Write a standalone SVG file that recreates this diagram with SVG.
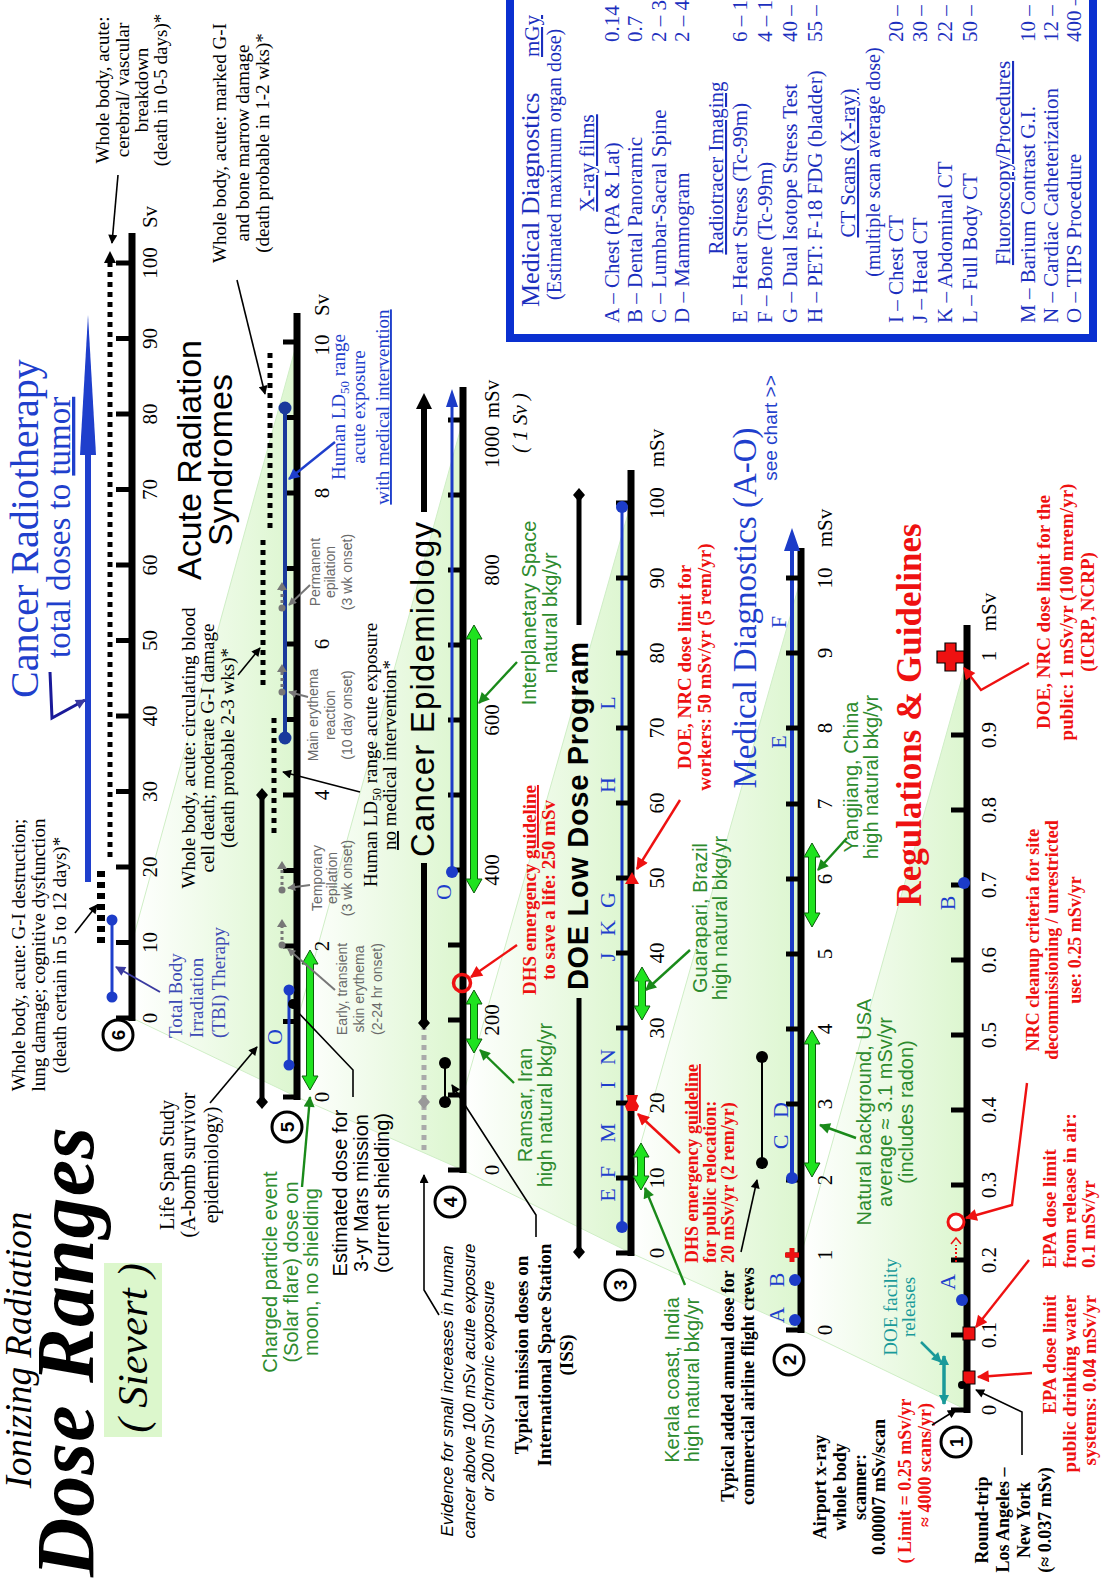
<svg xmlns="http://www.w3.org/2000/svg" width="1104" height="1585" viewBox="0 0 1104 1585">
<defs>
<style>
svg{font-family:"Liberation Serif",serif}
.ax{stroke:#000;stroke-width:7;fill:none}
.tk{stroke:#000;stroke-width:5;fill:none}
.tl{font-size:21px;text-anchor:middle;fill:#000}
.c{text-anchor:middle}
.e{text-anchor:end}
.s{font-family:"Liberation Sans",sans-serif}
.b{font-weight:bold}
.i{font-style:italic}
.red{fill:#ee1111}
.grn{fill:#2e8b2e}
.blu{fill:#1f3fcc}
.gry{fill:#6a6a6a}
.teal{fill:#1a9a9a}
.f13{font-size:13px}.f14{font-size:14px}.f18{font-size:18px}.f19{font-size:19px}.f20{font-size:20px}.f21{font-size:21px}
.shade{fill:url(#gs);stroke:#cfeec6;stroke-width:1}
.dbl{fill:#1fe31f;stroke:#0b5d0b;stroke-width:1}
.bdot{fill:#1c3cc8}
.circ{fill:#fff;stroke:#000;stroke-width:3}
.cn{font-family:"Liberation Sans",sans-serif;font-weight:bold;font-size:19px;text-anchor:middle}
.cb{fill:none;stroke:#000;stroke-width:1.6}
.cr{fill:none;stroke:#ee1111;stroke-width:2.4}
.cg{fill:none;stroke:#1a8a1a;stroke-width:2.4}
.dotl{fill:none;stroke:#000;stroke-width:5;stroke-dasharray:5 5}
.lt{font-size:22px;fill:#1f3fcc;text-anchor:middle}
.bx{font-size:21px;fill:#1c2fbe}
.gm{fill:#777}
.gml{fill:none;stroke:#777;stroke-width:3;stroke-dasharray:3 3}
</style>
<linearGradient id="gs" x1="0" y1="0" x2="0" y2="1">
<stop offset="0" stop-color="#ffffff"/>
<stop offset="1" stop-color="#dcf6cf"/>
</linearGradient>
<marker id="mk" viewBox="0 0 10 10" refX="9" refY="5" markerWidth="11" markerHeight="9" markerUnits="userSpaceOnUse" orient="auto-start-reverse"><path d="M0,0L10,5L0,10z" fill="#000"/></marker>
<marker id="mr" viewBox="0 0 10 10" refX="9" refY="5" markerWidth="15" markerHeight="12" markerUnits="userSpaceOnUse" orient="auto-start-reverse"><path d="M0,0L10,5L0,10z" fill="#ee1111"/></marker>
<marker id="mg" viewBox="0 0 10 10" refX="9" refY="5" markerWidth="14" markerHeight="11" markerUnits="userSpaceOnUse" orient="auto-start-reverse"><path d="M0,0L10,5L0,10z" fill="#1a8a1a"/></marker>
<marker id="mb" viewBox="0 0 10 10" refX="9" refY="5" markerWidth="14" markerHeight="11" markerUnits="userSpaceOnUse" orient="auto-start-reverse"><path d="M0,0L10,5L0,10z" fill="#1f3fcc"/></marker>
<marker id="mp" viewBox="0 0 10 10" refX="9" refY="5" markerWidth="13" markerHeight="10" markerUnits="userSpaceOnUse" orient="auto-start-reverse"><path d="M0,0L10,5L0,10z" fill="#3a3aa0"/></marker>
<marker id="my" viewBox="0 0 10 10" refX="9" refY="5" markerWidth="10" markerHeight="8" markerUnits="userSpaceOnUse" orient="auto-start-reverse"><path d="M0,0L10,5L0,10z" fill="#777"/></marker>
<marker id="mt" viewBox="0 0 10 10" refX="9" refY="5" markerWidth="12" markerHeight="10" markerUnits="userSpaceOnUse" orient="auto-start-reverse"><path d="M0,0L10,5L0,10z" fill="#1a9a9a"/></marker>
</defs>
<rect width="1104" height="1585" fill="#fff"/>
<g transform="translate(0,1585) rotate(-90)">

<g id="shading">
<polygon class="shade" points="567,132 642.5,132 1243,297 488,297"/>
<polygon class="shade" points="488,297 563.5,297 1165,463 415,463"/>
<polygon class="shade" points="415,463 490,463 1082,631 332,631"/>
<polygon class="shade" points="332,631 407,631 1007,801 255,801"/>
<polygon class="shade" points="255,801 330,801 925,967 175,967"/>
</g>

<g id="title">
<text x="235" y="31" class="i c" font-size="37">Ionizing Radiation</text>
<text x="8" y="93" class="i b" font-size="82" textLength="450">Dose Ranges</text>
<rect x="148" y="104" width="174" height="58" fill="#dcf7cc"/>
<text x="237" y="147" class="i c" font-size="43">( Sievert )</text>
</g>

<g id="axis6">
<path class="ax" d="M564,132H1352"/>
<path class="tk" d="M567,116V132M642.5,116V132M718,116V132M793.5,116V132M869,116V132M944.5,116V132M1020,116V132M1095.5,116V132M1171,116V132M1246.5,116V132M1322,116V132"/>
<g class="tl"><text x="567" y="157">0</text><text x="642.5" y="157">10</text><text x="718" y="157">20</text><text x="793.5" y="157">30</text><text x="869" y="157">40</text><text x="944.5" y="157">50</text><text x="1020" y="157">60</text><text x="1095.5" y="157">70</text><text x="1171" y="157">80</text><text x="1246.5" y="157">90</text><text x="1322" y="157">100</text><text x="1368" y="157">Sv</text></g>
<circle class="circ" cx="550" cy="118" r="15"/><text class="cn" x="550" y="125">6</text>
</g>

<g id="radiotherapy">
<text x="887" y="38" class="blu" font-size="40">Cancer Radiotherapy</text>
<text x="927" y="70" class="blu" font-size="33">total doses to <tspan text-decoration="underline">tumor</tspan></text>
<path d="M703,88H1132" stroke="#1f3fcc" stroke-width="6"/>
<polygon points="1130,80 1270,88 1130,96" fill="#1f3fcc"/>
<line x1="588" y1="112" x2="665" y2="112" stroke="#1f3fcc" stroke-width="3"/>
<circle class="bdot" cx="588" cy="112" r="5.5"/><circle class="bdot" cx="665" cy="112" r="5.5"/>
<g class="f19" fill="#3d4bb5">
<text x="547" y="182">Total Body</text>
<text x="547" y="203">Irradiation</text>
<text x="547" y="225">(TBI) Therapy</text>
</g>
</g>

<g id="ars">
<path class="dotl" d="M728,110H1325"/>
<polygon points="1322,104 1334,110 1322,116" fill="#000"/>
<path d="M642,101H718" fill="none" stroke="#000" stroke-width="8" stroke-dasharray="6 5"/>
<path class="dotl" d="M1057,270H1237"/>
<path class="dotl" d="M900,263H1047"/>
<path class="dotl" d="M752,274H867"/>
<text x="1125" y="201" class="s c" font-size="34">Acute Radiation</text>
<text x="1125" y="232" class="s c" font-size="34">Syndromes</text>
<g class="c f19">
<text x="630" y="25">Whole body, acute: G-I destruction;</text>
<text x="630" y="45">lung damage; cognitive dysfunction</text>
<text x="630" y="66">(death certain in 5 to 12 days)*</text>
<text x="1495" y="109">Whole body, acute:</text>
<text x="1495" y="129">cerebral/ vascular</text>
<text x="1495" y="148">breakdown</text>
<text x="1495" y="167">(death in 0-5 days)*</text>
<text x="1442" y="226">Whole body, acute: marked G-I</text>
<text x="1442" y="249">and bone marrow damage</text>
<text x="1442" y="269">(death probable in 1-2 wks)*</text>
<text x="837" y="195">Whole body, acute: circulating blood</text>
<text x="837" y="214">cell death; moderate G-I damage</text>
<text x="837" y="234">(death probable 2-3 wks)*</text>
<text x="830" y="377">Human LD<tspan font-size="13" dy="4">50</tspan><tspan dy="-4"> range acute exposure</tspan></text>
<text x="830" y="396"><tspan text-decoration="underline">no</tspan> medical intervention*</text>
</g>
<g class="c f19 blu">
<text x="1178" y="345">Human LD<tspan font-size="13" dy="4">50</tspan><tspan dy="-4"> range</tspan></text>
<text x="1178" y="365">acute exposure</text>
<text x="1178" y="389" text-decoration="underline">with medical intervention</text>
</g>
</g>

<g id="axis5">
<path class="ax" d="M485,297H1272"/>
<path class="tk" d="M488,283V297M563.5,283V297M639,283V297M714.5,283V297M790,283V297M865.5,283V297M941,283V297M1016.5,283V297M1092,283V297M1167.5,283V297M1243,283V297"/>
<g class="tl"><text x="488" y="329">0</text><text x="639" y="329">2</text><text x="790" y="329">4</text><text x="941" y="329">6</text><text x="1092" y="329">8</text><text x="1240" y="329">10</text><text x="1280" y="329">Sv</text></g>
<circle class="circ" cx="458" cy="287" r="15"/><text class="cn" x="458" y="294">5</text>
<line x1="847" y1="285" x2="1177" y2="285" stroke="#1a3a9c" stroke-width="4"/>
<circle cx="847" cy="285" r="6.5" fill="#1a3a9c"/><circle cx="1177" cy="285" r="6.5" fill="#1a3a9c"/>
<line x1="520" y1="289" x2="595" y2="289" stroke="#1c3cc8" stroke-width="3"/>
<circle class="bdot" cx="520" cy="289" r="5.5"/><circle class="bdot" cx="595" cy="289" r="5.5"/>
<text x="548" y="282" class="lt">O</text>
<polygon class="dbl" points="495,310 509,302 509,306.5 621,306.5 621,302 635,310 621,318 621,313.5 509,313.5 509,318"/>
<circle class="gm" cx="640" cy="282" r="3.5"/><path class="gml" d="M645,282H658"/><polygon class="gm" points="658,277 666,282 658,287"/>
<circle class="gm" cx="695" cy="282" r="3.5"/><path class="gml" d="M700,282H716"/><polygon class="gm" points="716,277 724,282 716,287"/>
<circle class="gm" cx="893" cy="282" r="3.5"/><path class="gml" d="M898,282H913"/><polygon class="gm" points="913,277 921,282 913,287"/>
<circle class="gm" cx="977" cy="282" r="3.5"/><path class="gml" d="M982,282H995"/><polygon class="gm" points="995,277 1003,282 995,287"/>
<g class="s c gry f14">
<text x="596" y="347">Early, transient</text><text x="596" y="364">skin erythema</text><text x="596" y="382">(2-24 hr onset)</text>
<text x="707" y="322">Temporary</text><text x="707" y="337">epilation</text><text x="707" y="352">(3 wk onset)</text>
<text x="870" y="318">Main erythema</text><text x="870" y="335">reaction</text><text x="870" y="352">(10 day onset)</text>
<text x="1013" y="320">Permanent</text><text x="1013" y="335">epilation</text><text x="1013" y="352">(3 wk onset)</text>
</g>
<line x1="483" y1="262" x2="790" y2="262" stroke="#000" stroke-width="5"/>
<polygon points="476,262 483,256 490,262 483,268" fill="#000"/>
<polygon points="783,262 790,256 797,262 790,268" fill="#000"/>
<g class="c f20"><text x="420" y="174">Life Span Study</text><text x="420" y="195">(A-bomb survivor</text><text x="420" y="218">epidemiology)</text></g>
<g class="s c grn f20"><text x="313" y="277">Charged particle event</text><text x="313" y="298">(Solar flare) dose on</text><text x="313" y="318">moon, no shielding</text></g>
<g class="s c f20"><text x="392" y="347">Estimated dose for</text><text x="392" y="368">3-yr Mars mission</text><text x="392" y="389">(current shielding)</text></g>
<circle cx="581" cy="293" r="5" fill="#000"/>
</g>

<g id="axis4">
<path class="ax" d="M412,463H1198"/>
<path class="tk" d="M415,448V463M490,448V463M565,448V463M640,448V463M715,448V463M790,448V463M865,448V463M940,448V463M1015,448V463M1090,448V463M1165,448V463"/>
<g class="tl"><text x="415" y="499">0</text><text x="565" y="499">200</text><text x="715" y="499">400</text><text x="865" y="499">600</text><text x="1015" y="499">800</text><text x="1138" y="499">1000</text><text x="1186" y="499">mSv</text></g>
<text x="1162" y="527" class="i c f21">( 1 Sv )</text>
<circle class="circ" cx="383" cy="450" r="15"/><text class="cn" x="383" y="457">4</text>
<line x1="713" y1="452" x2="1180" y2="452" stroke="#1c3cc8" stroke-width="3"/>
<polygon points="1178,446 1196,452 1178,458" fill="#1c3cc8"/>
<circle class="bdot" cx="713" cy="452" r="6"/>
<text x="693" y="451" class="lt">O</text>
<path d="M435,424H557" fill="none" stroke="#aaa" stroke-width="5" stroke-dasharray="5 5"/>
<polygon points="476,424 483,418 490,424 483,430" fill="#999"/>
<line x1="562" y1="424" x2="722" y2="424" stroke="#000" stroke-width="6"/>
<polygon points="555,424 562,418 569,424 562,430" fill="#000"/>
<line x1="1073" y1="424" x2="1178" y2="424" stroke="#000" stroke-width="6"/>
<polygon points="1176,416 1192,424 1176,432" fill="#000"/>
<text x="728" y="434" class="s" font-size="33" textLength="335">Cancer Epidemiology</text>
<polygon class="dbl" points="692,474 706,466 706,470.5 946,470.5 946,466 960,474 946,482 946,477.5 706,477.5 706,482"/>
<polygon class="dbl" points="532,474 546,466 546,470.5 581,470.5 581,466 595,474 581,482 581,477.5 546,477.5 546,482"/>
<circle cx="602" cy="462" r="8.5" fill="none" stroke="#ee1111" stroke-width="3.5"/>
<line x1="483" y1="445" x2="522" y2="445" stroke="#000" stroke-width="2"/>
<circle cx="483" cy="445" r="6" fill="#000"/><circle cx="522" cy="445" r="6" fill="#000"/>
<g class="s c grn f20"><text x="972" y="536">Interplanetary Space</text><text x="972" y="557">natural bkg/yr</text>
<text x="480" y="532">Ramsar, Iran</text><text x="480" y="552">high natural bkg/yr</text></g>
<g class="b c red f19"><text x="695" y="536">DHS emergency <tspan text-decoration="underline">guideline</tspan></text><text x="695" y="555">to save a life: 250 mSv</text></g>
<g class="b c f19"><text x="230" y="528">Typical mission doses on</text><text x="230" y="551">International Space Station</text><text x="230" y="573">(ISS)</text></g>
<g class="s i c" font-size="17"><text x="194" y="453">Evidence for small increases in human</text><text x="194" y="475">cancer above  100 mSv acute exposure</text><text x="194" y="494">or  200 mSv chronic exposure</text></g>
</g>

<g id="axis3">
<line x1="358" y1="622" x2="1078" y2="622" stroke="#1c3cc8" stroke-width="3"/>
<path class="ax" d="M329,631H1115"/>
<path class="tk" d="M332,616V631M407,616V631M482,616V631M557,616V631M632,616V631M707,616V631M782,616V631M857,616V631M932,616V631M1007,616V631M1082,616V631"/>
<circle class="bdot" cx="358" cy="622" r="6"/><circle class="bdot" cx="1078" cy="622" r="6"/>
<g class="tl"><text x="332" y="664">0</text><text x="407" y="664">10</text><text x="482" y="664">20</text><text x="557" y="664">30</text><text x="632" y="664">40</text><text x="707" y="664">50</text><text x="782" y="664">60</text><text x="857" y="664">70</text><text x="932" y="664">80</text><text x="1007" y="664">90</text><text x="1082" y="664">100</text><text x="1137" y="664">mSv</text></g>
<g class="lt"><text x="390" y="615">E</text><text x="413" y="615">F</text><text x="452" y="615">M</text><text x="500" y="615">I</text><text x="528" y="615">N</text><text x="628" y="615">J</text><text x="657" y="615">K</text><text x="685" y="615">G</text><text x="800" y="615">H</text><text x="882" y="615">L</text></g>
<polygon points="701,625 713,632 701,639" fill="#ee1111"/>
<polygon points="474,627 479,625 484,628 490,626 490,638 484,636 479,639 474,637" fill="#ee1111"/>
<polygon class="dbl" points="395,641 409,633 409,637.5 428,637.5 428,633 442,641 428,649 428,644.5 409,644.5 409,649"/>
<polygon class="dbl" points="565,642 579,634 579,638.5 604,638.5 604,634 618,642 604,650 604,645.5 579,645.5 579,650"/>
<circle class="circ" cx="300" cy="620" r="15"/><text class="cn" x="300" y="627">3</text>
<line x1="333" y1="579" x2="587" y2="579" stroke="#000" stroke-width="5"/>
<line x1="960" y1="579" x2="1090" y2="579" stroke="#000" stroke-width="5"/>
<polygon points="326,579 333,573 340,579 333,585" fill="#000"/>
<polygon points="1083,579 1090,573 1097,579 1090,585" fill="#000"/>
<text x="769" y="588" class="s b c" font-size="29" textLength="348">DOE Low Dose Program</text>
<g class="s c grn f20"><text x="667" y="707">Guarapari, Brazil</text><text x="667" y="727">high natural bkg/yr</text>
<text x="205" y="679">Kerala coast, India</text><text x="205" y="699">high natural bkg/yr</text></g>
<g class="b c red f19"><text x="918" y="691">DOE, NRC dose limit for</text><text x="918" y="711">workers: 50 mSv/yr  (5 rem/yr)</text></g>
<g class="b red f18"><text x="322" y="698">DHS emergency <tspan text-decoration="underline">guideline</tspan></text><text x="322" y="716">for public relocation:</text><text x="322" y="734">20 mSv/yr  (2 rem/yr)</text></g>
<text x="977" y="756" class="c blu" font-size="33">Medical Diagnostics (A-O)</text>
<text x="1157" y="777" class="s c blu f19">see chart &gt;&gt;</text>
</g>

<g id="axis2">
<line x1="407" y1="792" x2="1036" y2="792" stroke="#1c3cc8" stroke-width="4"/>
<path class="ax" d="M252,801H1037"/>
<path class="tk" d="M255,786V801M330,786V801M405,786V801M481,786V801M556,786V801M631,786V801M706,786V801M781,786V801M857,786V801M932,786V801M1007,786V801"/>
<polygon points="1034,784 1057,792 1034,800" fill="#1c3cc8"/>
<circle class="bdot" cx="407" cy="792" r="6"/>
<circle class="bdot" cx="265" cy="795" r="6"/><circle class="bdot" cx="305" cy="795" r="6"/>
<g class="tl"><text x="255" y="832">0</text><text x="330" y="832">1</text><text x="405" y="832">2</text><text x="481" y="832">3</text><text x="556" y="832">4</text><text x="631" y="832">5</text><text x="706" y="832">6</text><text x="781" y="832">7</text><text x="857" y="832">8</text><text x="932" y="832">9</text><text x="1007" y="832">10</text><text x="1057" y="832">mSv</text></g>
<g class="lt"><text x="270" y="784">A</text><text x="305" y="784">B</text><text x="443" y="788">C</text><text x="475" y="788">D</text><text x="843" y="786">E</text><text x="963" y="786">F</text></g>
<path d="M323,792H337M330,785V799" stroke="#ee1111" stroke-width="5"/>
<line x1="422" y1="762" x2="528" y2="762" stroke="#000" stroke-width="2"/>
<circle cx="422" cy="762" r="6" fill="#000"/><circle cx="528" cy="762" r="6" fill="#000"/>
<polygon class="dbl" points="408,812 422,804 422,808.5 541,808.5 541,804 555,812 541,820 541,815.5 422,815.5 422,820"/>
<polygon class="dbl" points="658,812 672,804 672,808.5 728,808.5 728,804 742,812 728,820 728,815.5 672,815.5 672,820"/>
<circle class="circ" cx="225" cy="789" r="15"/><text class="cn" x="225" y="796">2</text>
<g class="b c f18"><text x="199" y="734">Typical added annual dose for</text><text x="199" y="754">commercial airline flight crews</text></g>
<g class="s c grn f20"><text x="808" y="858">Yangjiang, China</text><text x="808" y="878">high natural bkg/yr</text>
<text x="473" y="871">Natural background, USA</text><text x="473" y="892">average ≈ 3.1 mSv/yr</text><text x="473" y="913">(includes radon)</text></g>
</g>

<g id="axis1">
<path class="ax" d="M172,967H960"/>
<path class="tk" d="M175,951V967M250,951V967M325,951V967M400,951V967M475,951V967M550,951V967M625,951V967M700,951V967M775,951V967M850,951V967M925,951V967"/>
<g class="tl"><text x="175" y="996">0</text><text x="250" y="996">0.1</text><text x="325" y="996">0.2</text><text x="400" y="996">0.3</text><text x="475" y="996">0.4</text><text x="550" y="996">0.5</text><text x="625" y="996">0.6</text><text x="700" y="996">0.7</text><text x="775" y="996">0.8</text><text x="850" y="996">0.9</text><text x="929" y="996">1</text><text x="973" y="996">mSv</text></g>
<circle class="circ" cx="143" cy="956" r="15"/><text class="cn" x="143" y="963">1</text>
<path d="M914,945H922V937H934V945H942V956H934V964H922V956H914Z" fill="#ee1111" stroke="#000" stroke-width="1.2"/>
<circle class="bdot" cx="702" cy="964" r="6"/><circle class="bdot" cx="285" cy="962" r="6"/>
<text x="682" y="955" class="lt">B</text><text x="303" y="955" class="lt">A</text>
<circle cx="363" cy="956" r="8" fill="#fff" stroke="#ee1111" stroke-width="3"/>
<path d="M323,956H340" stroke="#ee1111" stroke-width="2" stroke-dasharray="2 2"/>
<path d="M341,951L347,956L341,961" fill="none" stroke="#ee1111" stroke-width="1.5"/>
<rect x="245" y="963" width="13" height="12" fill="#ee1111" stroke="#000" stroke-width="1"/>
<rect x="201" y="963" width="13" height="12" fill="#ee1111" stroke="#000" stroke-width="1"/>
<circle cx="200" cy="962" r="4" fill="#000"/>
<path d="M181,944H229" stroke="#1a9a9a" stroke-width="3.5" marker-start="url(#mt)" marker-end="url(#mt)"/>
<text x="870" y="921" class="b c red" font-size="35">Regulations &amp; Guidelines</text>
<g class="b c red f19"><text x="973" y="1050">DOE, NRC dose limit for the</text><text x="973" y="1073">public: 1 mSv/yr  (100 mrem/yr)</text><text x="973" y="1094">(ICRP, NCRP)</text></g>
<g class="b c red f18"><text x="645" y="1039">NRC cleanup criteria for site</text><text x="645" y="1058">decommissioning / unrestricted</text><text x="645" y="1081">use: 0.25 mSv/yr</text></g>
<g class="b red f19"><text x="317" y="1056">EPA dose limit</text><text x="317" y="1076">from release in air:</text><text x="317" y="1095">0.1 mSv/yr</text></g>
<g class="b e red f19"><text x="290" y="1056">EPA dose limit</text><text x="290" y="1076">public drinking water</text><text x="290" y="1096">systems: 0.04 mSv/yr</text></g>
<g class="c teal f19"><text x="278" y="897">DOE facility</text><text x="278" y="915">releases</text></g>
<g class="b c f18"><text x="98" y="826">Airport x-ray</text><text x="98" y="846">whole body</text><text x="98" y="866">scanner:</text><text x="98" y="885">0.00007 mSv/scan</text></g>
<g class="b c red f18"><text x="104" y="911">( Limit = 0.25 mSv/yr</text><text x="120" y="931">≈ 4000 scans/yr)</text></g>
<g class="b c f18"><text x="65" y="988">Round-trip</text><text x="65" y="1009">Los Angeles –</text><text x="65" y="1030">New York</text><text x="65" y="1051">(≈ 0.037 mSv)</text></g>
</g>

<g id="medical-box">
<rect x="1247" y="510" width="360" height="583" fill="#fff" stroke="#0a30d0" stroke-width="8"/>
<text x="1278" y="539" class="bx" style="font-size:26px">Medical Diagnostics</text>
<text x="1528" y="539" class="bx" text-decoration="underline">mGy</text>
<text x="1285" y="561" class="bx" style="font-size:20px">(Estimated maximum organ dose)</text>
<text x="1422" y="594" class="bx c" text-decoration="underline">X-ray films</text>
<text x="1262" y="619" class="bx">A – Chest (PA &amp; Lat)</text><text x="1543" y="619" class="bx">0.14</text>
<text x="1262" y="642" class="bx">B – Dental Panoramic</text><text x="1543" y="642" class="bx">0.7</text>
<text x="1262" y="666" class="bx">C – Lumbar-Sacral Spine</text><text x="1543" y="666" class="bx">2 – 3</text>
<text x="1262" y="689" class="bx">D – Mammogram</text><text x="1543" y="689" class="bx">2 – 4</text>
<text x="1417" y="723" class="bx c" text-decoration="underline">Radiotracer Imaging</text>
<text x="1262" y="747" class="bx">E – Heart Stress  (Tc-99m)</text><text x="1543" y="747" class="bx">6 – 12</text>
<text x="1262" y="772" class="bx">F – Bone (Tc-99m)</text><text x="1543" y="772" class="bx">4 – 15</text>
<text x="1262" y="797" class="bx">G – Dual Isotope Stress Test</text><text x="1543" y="797" class="bx">40 – 45</text>
<text x="1262" y="822" class="bx">H – PET: F-18 FDG (bladder)</text><text x="1543" y="822" class="bx">55 – 80</text>
<text x="1422" y="855" class="bx c" text-decoration="underline">CT Scans (X-ray)</text>
<text x="1423" y="880" class="bx c" style="font-size:20px">(multiple scan average dose)</text>
<text x="1262" y="903" class="bx">I – Chest CT</text><text x="1543" y="903" class="bx">20 – 30</text>
<text x="1262" y="927" class="bx">J – Head CT</text><text x="1543" y="927" class="bx">30 – 50</text>
<text x="1262" y="952" class="bx">K – Abdominal CT</text><text x="1543" y="952" class="bx">22 – 60</text>
<text x="1262" y="977" class="bx">L – Full Body CT</text><text x="1543" y="977" class="bx">50 – 100</text>
<text x="1422" y="1010" class="bx c" text-decoration="underline">Fluoroscopy/Procedures</text>
<text x="1262" y="1035" class="bx">M – Barium Contrast G.I.</text><text x="1543" y="1035" class="bx">10 – 22</text>
<text x="1262" y="1058" class="bx">N – Cardiac Catheterization</text><text x="1543" y="1058" class="bx">12 – 40</text>
<text x="1262" y="1081" class="bx">O – TIPS  Procedure</text><text x="1543" y="1081" class="bx">400 – 1400</text>
</g>

<g id="connectors">
<path class="cb" marker-end="url(#mk)" d="M1410,118L1342,112"/>
<path class="cb" marker-end="url(#mk)" d="M1305,237L1191,265"/>
<path class="cb" marker-end="url(#mk)" d="M910,238L937,260"/>
<path class="cb" marker-end="url(#mk)" d="M793,360L813,283"/>
<path class="cb" marker-end="url(#mk)" d="M652,75L680,97"/>
<path class="cb" marker-end="url(#mk)" d="M482,210L538,257"/>
<path class="cb" d="M488,353L515,353L578,293"/>
<path class="cb" marker-end="url(#mk)" d="M348,536L370,536L500,452"/>
<path class="cb" marker-end="url(#mk)" d="M270,439L295,424L410,424"/>
<path class="cb" marker-end="url(#mk)" d="M333,741L405,757"/>
<path class="cb" marker-end="url(#mk)" d="M160,932L175,956"/>
<path class="cb" marker-end="url(#mk)" d="M130,1022L173,1022L195,976"/>
<path class="cr" marker-end="url(#mr)" d="M640,517L608,471"/>
<path class="cr" marker-end="url(#mr)" d="M785,680L716,637"/>
<path class="cr" marker-end="url(#mr)" d="M432,680L471,638"/>
<path class="cr" marker-end="url(#mr)" d="M922,1029L895,981L917,964"/>
<path class="cr" marker-end="url(#mr)" d="M502,1027L380,1012L367,966"/>
<path class="cr" marker-end="url(#mr)" d="M325,1029L258,976"/>
<path class="cr" marker-end="url(#mr)" d="M212,1032L208,978"/>
<path class="cg" marker-end="url(#mg)" d="M398,302L488,310"/>
<path class="cg" marker-end="url(#mg)" d="M923,517L882,479"/>
<path class="cg" marker-end="url(#mg)" d="M502,514L535,480"/>
<path class="cg" marker-end="url(#mg)" d="M635,690L595,646"/>
<path class="cg" marker-end="url(#mg)" d="M300,685L397,645"/>
<path class="cg" marker-end="url(#mg)" d="M747,847L715,818"/>
<path class="cg" marker-end="url(#mg)" d="M447,856L460,820"/>
<path fill="none" stroke="#1f3fcc" stroke-width="2.4" marker-end="url(#mb)" d="M1143,335L1106,289"/>
<path fill="none" stroke="#3a3aa0" stroke-width="2" marker-end="url(#mp)" d="M593,160L618,116"/>
<path fill="none" stroke="#1a1a99" stroke-width="3" marker-end="url(#mp)" d="M913,50L867,52L885,85"/>
<path fill="none" stroke="#777" stroke-width="2" marker-end="url(#my)" d="M595,335L636,288"/>
<path fill="none" stroke="#777" stroke-width="2" marker-end="url(#my)" d="M700,310L697,288"/>
<path fill="none" stroke="#777" stroke-width="2" marker-end="url(#my)" d="M888,308L893,289"/>
<path fill="none" stroke="#777" stroke-width="2" marker-end="url(#my)" d="M1000,310L980,289"/>
<path fill="none" stroke="#1a9a9a" stroke-width="2.5" marker-end="url(#mt)" d="M243,921L223,941"/>
</g>
</g>
</svg>
